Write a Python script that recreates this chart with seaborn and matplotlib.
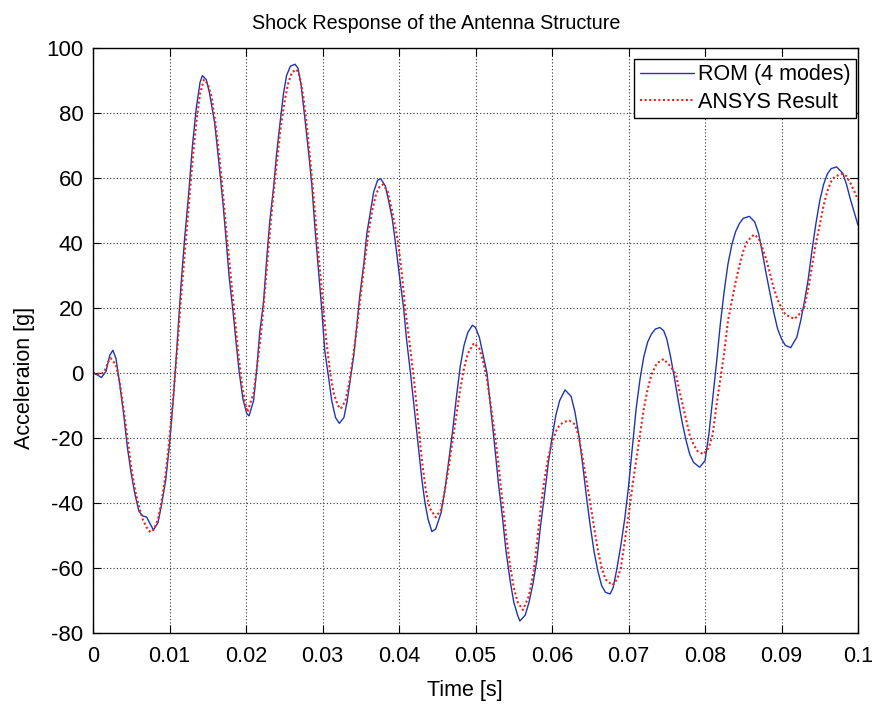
import matplotlib
matplotlib.use("Agg")
import matplotlib.pyplot as plt
import seaborn as sns
import pandas as pd

# ROM (4 modes) response: time [s] and acceleration [g]
t_rom = [0.0, 0.0005, 0.0011, 0.0017, 0.0022, 0.0026, 0.003, 0.0035, 0.004, 0.0045,
         0.005, 0.0055, 0.006, 0.0065, 0.007, 0.0075, 0.0079, 0.0085, 0.009, 0.0095,
         0.01, 0.0105, 0.011, 0.0115, 0.012, 0.0125, 0.013, 0.0135, 0.014, 0.0143,
         0.0148, 0.0152, 0.0159, 0.0164, 0.017, 0.0174, 0.0178, 0.0183, 0.0187, 0.0191,
         0.0196, 0.0201, 0.0204, 0.021, 0.0214, 0.0218, 0.0223, 0.0227, 0.0231, 0.0236,
         0.024, 0.0245, 0.0249, 0.0253, 0.0258, 0.0264, 0.0268, 0.0272, 0.0276, 0.0282,
         0.0286, 0.029, 0.0295, 0.0299, 0.0303, 0.0308, 0.0312, 0.0317, 0.0322, 0.0328,
         0.0332, 0.0336, 0.0341, 0.0345, 0.0349, 0.0354, 0.0358, 0.0363, 0.0367, 0.0372,
         0.0376, 0.0382, 0.0386, 0.0391, 0.0395, 0.04, 0.0406, 0.041, 0.0415, 0.042,
         0.0424, 0.043, 0.0434, 0.0438, 0.0443, 0.0448, 0.0455, 0.046, 0.0465, 0.047,
         0.0475, 0.048, 0.0485, 0.049, 0.0496, 0.05, 0.0505, 0.051, 0.0515, 0.052,
         0.0524, 0.053, 0.0535, 0.054, 0.0545, 0.055, 0.0555, 0.0558, 0.0565, 0.057,
         0.0575, 0.058, 0.0585, 0.059, 0.0595, 0.06, 0.0605, 0.061, 0.0617, 0.0625,
         0.063, 0.0635, 0.064, 0.0645, 0.065, 0.0655, 0.066, 0.0665, 0.067, 0.0676,
         0.068, 0.0685, 0.069, 0.0695, 0.07, 0.0705, 0.071, 0.0715, 0.072, 0.0725,
         0.073, 0.0735, 0.0741, 0.0746, 0.075, 0.0755, 0.076, 0.0765, 0.077, 0.0775,
         0.078, 0.0785, 0.0793, 0.08, 0.0805, 0.081, 0.0815, 0.082, 0.0825, 0.083,
         0.0835, 0.084, 0.0845, 0.085, 0.0858, 0.0865, 0.087, 0.0875, 0.088, 0.0885,
         0.089, 0.0895, 0.09, 0.0905, 0.0912, 0.092, 0.0925, 0.093, 0.0935, 0.094,
         0.0945, 0.095, 0.0955, 0.096, 0.0965, 0.0972, 0.098, 0.0985, 0.099, 0.0995,
         0.1]
a_rom = [0.0, -0.5, -1.4, 0.5, 5.5, 7.0, 4.5, -3.5, -12.5, -23,
         -31, -37.5, -42.5, -44, -44.3, -46.5, -48.3, -46, -40, -33,
         -22, -8, 9, 27, 42, 55, 70, 81.5, 89.5, 91.5,
         90.3, 86.5, 77, 66, 52, 41, 29.5, 19, 9.5, 0.5,
         -8, -12.5, -13.2, -8.4, 1, 12.6, 22, 35, 46.5, 57,
         67.5, 78, 86, 91.5, 94.4, 95, 93.8, 88.6, 80.4, 67.5,
         58, 45, 31, 19.6, 6.8, -1.4, -8.4, -13.7, -15.5, -13.7,
         -9, -2.6, 5.6, 15, 24.3, 33.6, 43, 50, 55.8, 59.3,
         59.8, 57.6, 53.5, 47.7, 40.7, 31, 20, 10, 0, -11,
         -20, -33, -40, -45, -48.8, -48, -43, -36, -27, -18,
         -7.5, 2, 8.5, 12.5, 14.7, 14, 11, 5.5, 0, -11,
         -20, -34, -44, -55, -63.5, -70.5, -74.5, -76.3, -74.5, -70.5,
         -65, -58, -47, -38, -28, -20, -13, -8.5, -5.2, -7.2,
         -12, -19, -28, -38, -47, -55, -61, -65.5, -67.5, -68,
         -66, -60, -53, -45, -35, -23, -11, -2, 5, 9.5,
         12, 13.5, 14, 13, 10.5, 5, -1.5, -8.5, -15, -20.5,
         -25, -27.5, -29, -27, -19, -8, 3, 15, 25, 33.5,
         39.4, 43.5, 46, 47.6, 48.2, 46.5, 43, 37, 30.5, 24.5,
         18.5, 13.5, 10.5, 8.5, 7.8, 11, 16, 22, 29, 38,
         46, 53, 58, 61.3, 62.9, 63.4, 61.5, 58, 53.5, 49.5,
         45.5]

# ANSYS reference response: time [s] and acceleration [g]
t_ansys = [0.0, 0.0005, 0.001, 0.0015, 0.002, 0.0023, 0.003, 0.0035, 0.004, 0.0045,
           0.005, 0.0055, 0.006, 0.0065, 0.007, 0.0075, 0.008, 0.0085, 0.009, 0.0095,
           0.01, 0.0105, 0.011, 0.0115, 0.012, 0.0125, 0.013, 0.0135, 0.014, 0.0145,
           0.015, 0.0155, 0.016, 0.0165, 0.017, 0.0175, 0.018, 0.0185, 0.019, 0.0195,
           0.02, 0.0202, 0.021, 0.0215, 0.022, 0.0225, 0.023, 0.0235, 0.024, 0.0245,
           0.025, 0.0255, 0.026, 0.0266, 0.027, 0.0275, 0.028, 0.0285, 0.029, 0.0295,
           0.03, 0.0305, 0.031, 0.0315, 0.032, 0.0324, 0.033, 0.0335, 0.034, 0.0345,
           0.035, 0.0355, 0.036, 0.0365, 0.037, 0.0375, 0.0379, 0.0385, 0.039, 0.0395,
           0.0399, 0.0404, 0.0408, 0.0414, 0.042, 0.0425, 0.043, 0.0435, 0.044, 0.0448,
           0.0455, 0.046, 0.0465, 0.047, 0.0475, 0.048, 0.0485, 0.049, 0.0498, 0.0505,
           0.051, 0.0515, 0.052, 0.0526, 0.053, 0.0535, 0.054, 0.0545, 0.055, 0.0555,
           0.0562, 0.057, 0.0576, 0.058, 0.0586, 0.059, 0.0595, 0.06, 0.0605, 0.061,
           0.0616, 0.0623, 0.063, 0.0635, 0.064, 0.0645, 0.065, 0.0655, 0.066, 0.0665,
           0.067, 0.0679, 0.0685, 0.069, 0.0695, 0.07, 0.0705, 0.071, 0.0715, 0.072,
           0.0725, 0.073, 0.0737, 0.0746, 0.0755, 0.0762, 0.077, 0.0775, 0.078, 0.0785,
           0.079, 0.0798, 0.0805, 0.081, 0.0815, 0.082, 0.0825, 0.083, 0.0835, 0.084,
           0.0845, 0.085, 0.0855, 0.0864, 0.087, 0.0875, 0.088, 0.0885, 0.089, 0.0895,
           0.09, 0.0905, 0.0917, 0.0925, 0.093, 0.0935, 0.094, 0.0945, 0.095, 0.0955,
           0.096, 0.0965, 0.097, 0.098, 0.0985, 0.099, 0.0995, 0.1]
a_ansys = [0.0, 0.0, -0.5, 0.5, 3.5, 4.6, 2.5, -3, -11, -20,
           -29, -36, -41, -45, -47.5, -49, -48, -45, -39, -31,
           -20, -7, 7, 23, 37, 51, 65, 77, 86, 90.3,
           89, 85, 77, 67, 55, 42, 30, 18, 6, -4,
           -10.5, -12, -6, 3, 13, 26, 40, 53, 64, 75,
           83, 89, 92.5, 93.4, 91.5, 85, 75, 63, 50, 36,
           23, 10, 0, -6.5, -10, -11, -8.5, -3, 5, 14,
           24, 34, 43, 50, 55, 57.5, 58, 56, 51, 45,
           40, 30, 20, 9, -3, -15, -27, -36, -41.5, -44.4,
           -42, -36, -29, -21, -13, -5, 1.5, 6, 9.2, 7.5,
           3.5, -2, -10, -20, -28, -39, -50, -59, -66, -70.5,
           -72.9, -68.5, -61, -53, -40, -33, -26, -21.5, -18, -16,
           -15, -14.7, -15.8, -19.5, -26, -33, -40, -47.5, -54.5, -60,
           -63.5, -65.3, -63.5, -60, -52, -44, -35, -27, -19, -11,
           -5, -0.5, 3, 4.3, 2, -0.5, -9, -14, -19, -22,
           -24, -25, -23, -19, -10, -2, 6, 16, 22, 28,
           33, 37.5, 40.5, 42.6, 41.5, 38.5, 35, 30.5, 26, 22.5,
           20, 18, 16.6, 18.5, 20.5, 26, 33, 40, 45.5, 51.5,
           56, 59, 60.5, 61.3, 60.5, 58.5, 56, 53.2]

x_ticks = [0, 0.01, 0.02, 0.03, 0.04, 0.05, 0.06, 0.07, 0.08, 0.09, 0.1]
x_tick_labels = ["0", "0.01", "0.02", "0.03", "0.04", "0.05", "0.06", "0.07", "0.08", "0.09", "0.1"]
y_ticks = [-80, -60, -40, -20, 0, 20, 40, 60, 80, 100]

sns.set_theme(style="white")
plt.rcParams["font.family"] = ["Liberation Sans", "DejaVu Sans"]
plt.rcParams["axes.unicode_minus"] = False
plt.rcParams["text.color"] = "black"
plt.rcParams["axes.labelcolor"] = "black"

fig = plt.figure(figsize=(8.75, 7.07), dpi=100)
ax = fig.add_axes([93 / 875, 1 - 633 / 707, (858 - 93) / 875, (633 - 48) / 707])

rom = pd.DataFrame({"t": t_rom, "a": a_rom})
ansys = pd.DataFrame({"t": t_ansys, "a": a_ansys})

sns.lineplot(data=rom, x="t", y="a", ax=ax, color="#2035b0", linewidth=1.0,
             label="ROM (4 modes)", sort=False)
sns.lineplot(data=ansys, x="t", y="a", ax=ax, color="#e8241f", linewidth=1.5,
             linestyle=(0, (1, 1.2)), label="ANSYS Result", sort=False)

ax.set_xlim(0, 0.1)
ax.set_ylim(-80, 100)
ax.set_xticks(x_ticks)
ax.set_xticklabels(x_tick_labels)
ax.set_yticks(y_ticks)

ax.grid(True, linestyle=(0, (1, 2)), color="#333333", linewidth=0.8)
for s in ax.spines.values():
    s.set_color("black")
    s.set_linewidth(1.0)
    s.set_visible(True)

ax.tick_params(direction="in", length=6, width=0.8, colors="black",
               labelsize=16, top=True, right=True, bottom=True, left=True)
ax.tick_params(axis="x", pad=9, labelsize=15.5)
ax.tick_params(axis="y", pad=7)

ax.set_title("Shock Response of the Antenna Structure", fontsize=14.2, color="black",
             x=(436 - 93) / 765, y=1 + (48 - 29) / 585, pad=0)
ax.set_xlabel("Time [s]", fontsize=15.5, color="black")
ax.set_ylabel("Acceleraion [g]", fontsize=15.5, color="black")
ax.xaxis.set_label_coords((465 - 93) / 765, -(680 - 633) / 585)
ax.yaxis.set_label_coords((35 - 93) / 765, (633 - 378) / 585)

leg = ax.legend(loc="upper right", bbox_to_anchor=((856 - 93) / 765, (633 - 59) / 585),
                fontsize=15.5, frameon=True, fancybox=False, framealpha=1,
                edgecolor="black", borderpad=0.25, labelspacing=0.3,
                handlelength=2.5, handletextpad=0.2, borderaxespad=0)
leg.get_frame().set_linewidth(1.0)
for txt in leg.get_texts():
    txt.set_color("black")

fig.savefig("out.png", dpi=100, facecolor="white")
